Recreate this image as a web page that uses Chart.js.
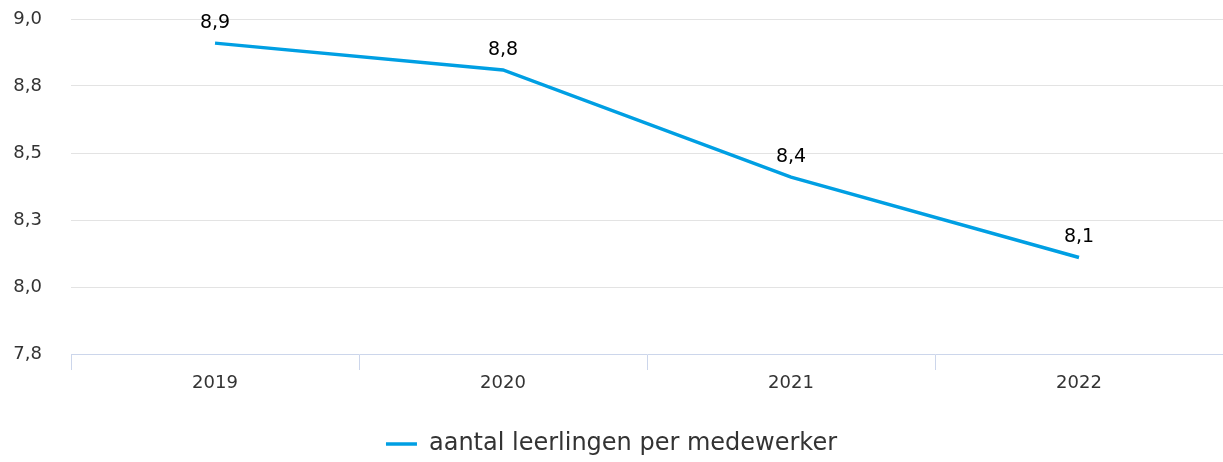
<!DOCTYPE html>
<html>
<head>
<meta charset="utf-8">
<script src="https://cdn.jsdelivr.net/npm/chart.js@4"></script>
<style>
  html, body { margin: 0; padding: 0; background: #fff; }
  #wrap { width: 1223px; height: 462px; }
</style>
</head>
<body>
<div id="wrap"><canvas id="chart"></canvas></div>
<script>
// Data
const years = ['2019', '2020', '2021', '2022'];
const perMedewerker = [8.91, 8.81, 8.41, 8.11];
const seriesName = 'aantal leerlingen per medewerker';

const fmt = v => Number(v).toFixed(1).replace('.', ',');

// small inline plugin for the value labels above the points
const valueLabels = {
    id: 'valueLabels',
    afterDatasetsDraw(chart) {
        const ctx = chart.ctx;
        const meta = chart.getDatasetMeta(0);
        ctx.save();
        ctx.font = '19px "DejaVu Sans"';
        ctx.fillStyle = '#000';
        ctx.textAlign = 'center';
        ctx.textBaseline = 'middle';
        meta.data.forEach((pt, i) => {
            ctx.fillText(fmt(chart.data.datasets[0].data[i]), pt.x, pt.y - 20);
        });
        ctx.restore();
    }
};

new Chart(document.getElementById('chart'), {
    type: 'line',
    data: {
        labels: years,
        datasets: [{
            label: seriesName,
            data: perMedewerker,
            borderColor: '#009fe3',
            backgroundColor: '#009fe3',
            borderWidth: 3.5,
            pointRadius: 0,
            tension: 0
        }]
    },
    options: {
        responsive: true,
        maintainAspectRatio: false,
        animation: false,
        layout: { padding: { top: 19, right: 0, left: 0, bottom: -4 } },
        plugins: {
            legend: {
                position: 'bottom',
                labels: {
                    usePointStyle: true,
                    pointStyle: 'line',
                    pointStyleWidth: 31,
                    color: '#333',
                    font: { family: 'DejaVu Sans', size: 24 },
                    padding: 8
                }
            },
            tooltip: { enabled: false }
        },
        scales: {
            y: {
                min: 7.75,
                max: 9.0,
                afterFit: s => { s.width = 71; },
                ticks: {
                    stepSize: 0.25,
                    padding: 0,
                    color: '#333',
                    font: { family: 'DejaVu Sans', size: 18 },
                    callback: v => fmt(v)
                },
                grid: {
                    drawTicks: true,
                    tickLength: 29,
                    tickColor: 'rgba(0,0,0,0)',
                    color: c => (c.tick && c.tick.value === 7.75) ? 'rgba(0,0,0,0)' : '#e3e3e3'
                },
                border: { display: false }
            },
            x: {
                offset: true,
                afterFit: s => { s.height = 70; },
                ticks: {
                    padding: 3,
                    color: '#333',
                    font: { family: 'DejaVu Sans', size: 18 }
                },
                grid: {
                    offset: true,
                    drawOnChartArea: false,
                    drawTicks: true,
                    tickLength: 16,
                    color: '#ccd6eb'
                },
                border: { color: '#ccd6eb', width: 1 }
            }
        }
    },
    plugins: [valueLabels]
});
</script>
</body>
</html>
